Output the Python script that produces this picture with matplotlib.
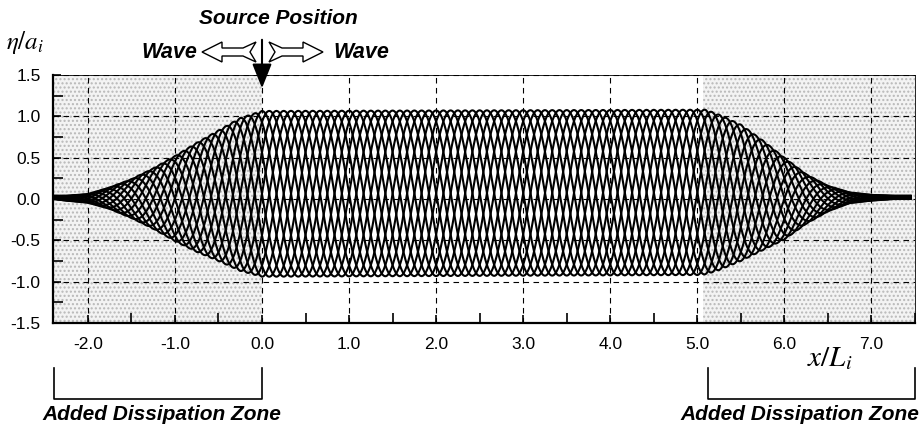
import numpy as np
import matplotlib
matplotlib.use("Agg")
import matplotlib.pyplot as plt
from matplotlib.patches import FancyArrowPatch, Polygon
from matplotlib.ticker import MultipleLocator

plt.rcParams['font.family'] = ['Liberation Sans', 'DejaVu Sans']
plt.rcParams['mathtext.fontset'] = 'stix'

# envelope of the wave snapshots (x/L_i, eta/a_i)
env_x = [-2.40, -2.25, -2.00, -1.75, -1.50, -1.25, -1.00, -0.75, -0.50, -0.25, 0.00,
         5.00, 5.10, 5.25, 5.50, 5.75, 6.00, 6.25, 6.50, 6.75, 7.00, 7.25, 7.45]
env_upper = [0.04, 0.04, 0.06, 0.14, 0.24, 0.37, 0.52, 0.68, 0.83, 0.98, 1.065,
             1.08, 1.08, 1.02, 0.90, 0.71, 0.50, 0.30, 0.16, 0.08, 0.05, 0.04, 0.04]
env_lower = [0.00, -0.02, -0.045, -0.12, -0.23, -0.36, -0.51, -0.64, -0.75, -0.87, -0.94,
             -0.92, -0.91, -0.86, -0.75, -0.62, -0.49, -0.30, -0.15, -0.05, -0.02, 0.00, 0.00]
n_snapshots = 12          # snapshots drawn over one period
wave_length = 1.0         # x is scaled by L_i
source_x = 0.0
zone_left = (-2.4, 0.0)
zone_right = (5.07, 7.5)

x_ticks = [-2.0, -1.0, 0.0, 1.0, 2.0, 3.0, 4.0, 5.0, 6.0, 7.0]
y_ticks = [-1.5, -1.0, -0.5, 0.0, 0.5, 1.0, 1.5]

W, H = 919, 430


def fx(px):
    return px / W


def fy(py):
    return 1 - py / H


fig = plt.figure(figsize=(W / 100, H / 100), dpi=100)
ax = fig.add_axes([fx(53), 107 / H, 862 / W, 248 / H])

# stippled dissipation zones
for z in (zone_left, zone_right):
    ax.axvspan(z[0], z[1], facecolor='#f3f3f3', edgecolor='#b8b8b8',
               hatch='....', linewidth=0, zorder=0)

# wave snapshots
xs = np.linspace(env_x[0], env_x[-1], 4000)
up = np.interp(xs, env_x, env_upper)
lo = np.interp(xs, env_x, env_lower)
mid = (up + lo) / 2
half = (up - lo) / 2
for j in range(n_snapshots):
    phase = 2 * np.pi * (np.abs(xs - source_x) / wave_length - j / n_snapshots)
    ax.plot(xs, mid + half * np.cos(phase), color='black', lw=1.5, zorder=3)

ax.set_xlim(-2.4, 7.5)
ax.set_ylim(-1.5, 1.5)
ax.set_xticks(x_ticks)
ax.set_xticklabels([f"{v:.1f}" for v in x_ticks])
ax.set_yticks(y_ticks)
ax.set_yticklabels([f"{v:.1f}" for v in y_ticks])
ax.xaxis.set_minor_locator(MultipleLocator(0.5))
ax.yaxis.set_minor_locator(MultipleLocator(0.25))
ax.tick_params(which='both', direction='in', top=False, right=False,
               labelsize=12.5, width=1.2)
ax.tick_params(axis='y', pad=9)
ax.tick_params(axis='x', pad=10)
ax.tick_params(which='major', length=6)
ax.tick_params(which='minor', length=7)
ax.grid(True, which='major', color='black', ls=(0, (5, 4)), lw=0.8)
ax.spines['left'].set_linewidth(1.6)
ax.spines['bottom'].set_linewidth(1.6)
ax.spines['top'].set_linewidth(0.6)
ax.spines['right'].set_linewidth(0.6)

# labels
fig.text(fx(6), fy(43), r'$\eta/a_i$', fontsize=18, va='center', ha='left')
fig.text(fx(830), fy(358), r'$x/L_i$', fontsize=21, va='center', ha='center')

# source position annotation
fig.text(fx(278), fy(18), 'Source Position', fontsize=15, fontweight='bold',
         fontstyle='italic', ha='center', va='center')
fig.add_artist(FancyArrowPatch((fx(262), fy(37)), (fx(262), fy(91)),
                               transform=fig.transFigure,
                               arrowstyle='-|>,head_length=15,head_width=6',
                               color='black', lw=1.5, mutation_scale=1))

# hollow "wave" arrows with notched tails
left_arrow = [(202, 52), (222, 42), (222, 48), (243, 48), (256, 42), (250, 52),
              (256, 62), (243, 56), (222, 56), (222, 62)]
for mirror in (False, True):
    pts = [((525 - px) if mirror else px, py) for px, py in left_arrow]
    fig.add_artist(Polygon([(fx(px), fy(py)) for px, py in pts], closed=True,
                           transform=fig.transFigure, facecolor='white',
                           edgecolor='black', lw=1.0))
fig.text(fx(197), fy(52), 'Wave', fontsize=15.5, fontweight='bold',
         fontstyle='italic', ha='right', va='center')
fig.text(fx(333), fy(52), 'Wave', fontsize=15.5, fontweight='bold',
         fontstyle='italic', ha='left', va='center')

# dissipation zone brackets
for (xa, xb), tx, ha in (((54, 262), 42, 'left'), ((708, 915), 919, 'right')):
    fig.add_artist(plt.Line2D([fx(xa), fx(xa), fx(xb), fx(xb)],
                              [fy(368), fy(399), fy(399), fy(368)],
                              color='black', lw=1.2, transform=fig.transFigure))
    fig.text(fx(tx), fy(415), 'Added Dissipation Zone', fontsize=15,
             fontweight='bold', fontstyle='italic', ha=ha, va='center')

fig.savefig('out.png', dpi=100)
